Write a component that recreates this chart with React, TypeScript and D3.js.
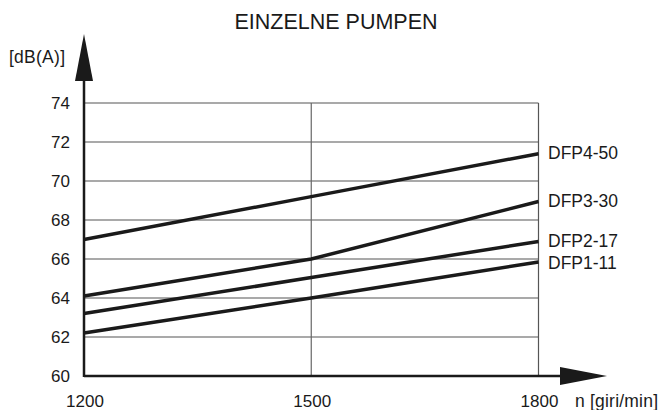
import React from "react";
import * as d3 from "d3";

const rpm = [1200, 1500, 1800];
const yTicks = [60, 62, 64, 66, 68, 70, 72, 74];
const seriesNames = ["DFP4-50", "DFP3-30", "DFP2-17", "DFP1-11"];
const dfp450 = [67.0, 69.2, 71.4];
const dfp330 = [64.1, 66.0, 68.95];
const dfp217 = [63.2, 65.05, 66.9];
const dfp111 = [62.2, 64.0, 65.85];
const seriesValues = [dfp450, dfp330, dfp217, dfp111];

export default function App() {
  const W = 664, H = 410;
  const x = d3.scaleLinear().domain([1200, 1800]).range([84, 538.5]);
  const y = d3.scaleLinear().domain([60, 74]).range([376, 103]);
  const line = d3.line<number>().x((_, i) => x(rpm[i])).y((d) => y(d));
  const font = "Arial, 'Liberation Sans', sans-serif";
  const ink = "#1a1a1a";
  return (
    <svg width={W} height={H} style={{ position: "absolute", left: 0, top: 0 }} fontFamily={font}>
      <rect width={W} height={H} fill="#fff" />
      <text x={336} y={29} textAnchor="middle" fontSize={21.5} fill={ink}>EINZELNE PUMPEN</text>
      <text x={9} y={63} fontSize={17.5} fill={ink} textLength={56}>[dB(A)]</text>
      {yTicks.filter((t) => t > 60).map((t) => (
        <line key={t} x1={x(1200)} x2={x(1800)} y1={y(t)} y2={y(t)} stroke="#555" strokeWidth={1.2} />
      ))}
      <line x1={x(1500)} x2={x(1500)} y1={y(74)} y2={y(60)} stroke="#666" strokeWidth={1.2} />
      <line x1={x(1800)} x2={x(1800)} y1={y(74)} y2={y(60)} stroke="#555" strokeWidth={1.2} />
      {yTicks.map((t) => (
        <text key={t} x={70} y={y(t)} dy="0.36em" textAnchor="end" fontSize={17} fill={ink}>{t}</text>
      ))}
      {rpm.map((r) => (
        <text key={r} x={x(r) + 1} y={407} textAnchor="middle" fontSize={17} fill={ink}>{r}</text>
      ))}
      <text x={575} y={407} fontSize={17.5} fill={ink} textLength={83}>n [giri/min]</text>
      {/* axes */}
      <line x1={x(1200)} x2={562} y1={y(60)} y2={y(60)} stroke={ink} strokeWidth={2.5} />
      <line x1={x(1200)} x2={x(1200)} y1={y(60) + 1} y2={80} stroke={ink} strokeWidth={2.5} />
      <path d={`M75,81 L93,81 L84,34 Z`} fill={ink} />
      <path d={`M560,367 L560,385 L607,376 Z`} fill={ink} />
      {seriesValues.map((vals, i) => (
        <path key={i} d={line(vals) || ""} fill="none" stroke={ink} strokeWidth={3.5} />
      ))}
      {seriesValues.map((vals, i) => (
        <text key={i} x={548} y={y(vals[2])} dy={i === 3 ? "0.42em" : "0.33em"} fontSize={17.5} fill={ink}>{seriesNames[i]}</text>
      ))}
    </svg>
  );
}
